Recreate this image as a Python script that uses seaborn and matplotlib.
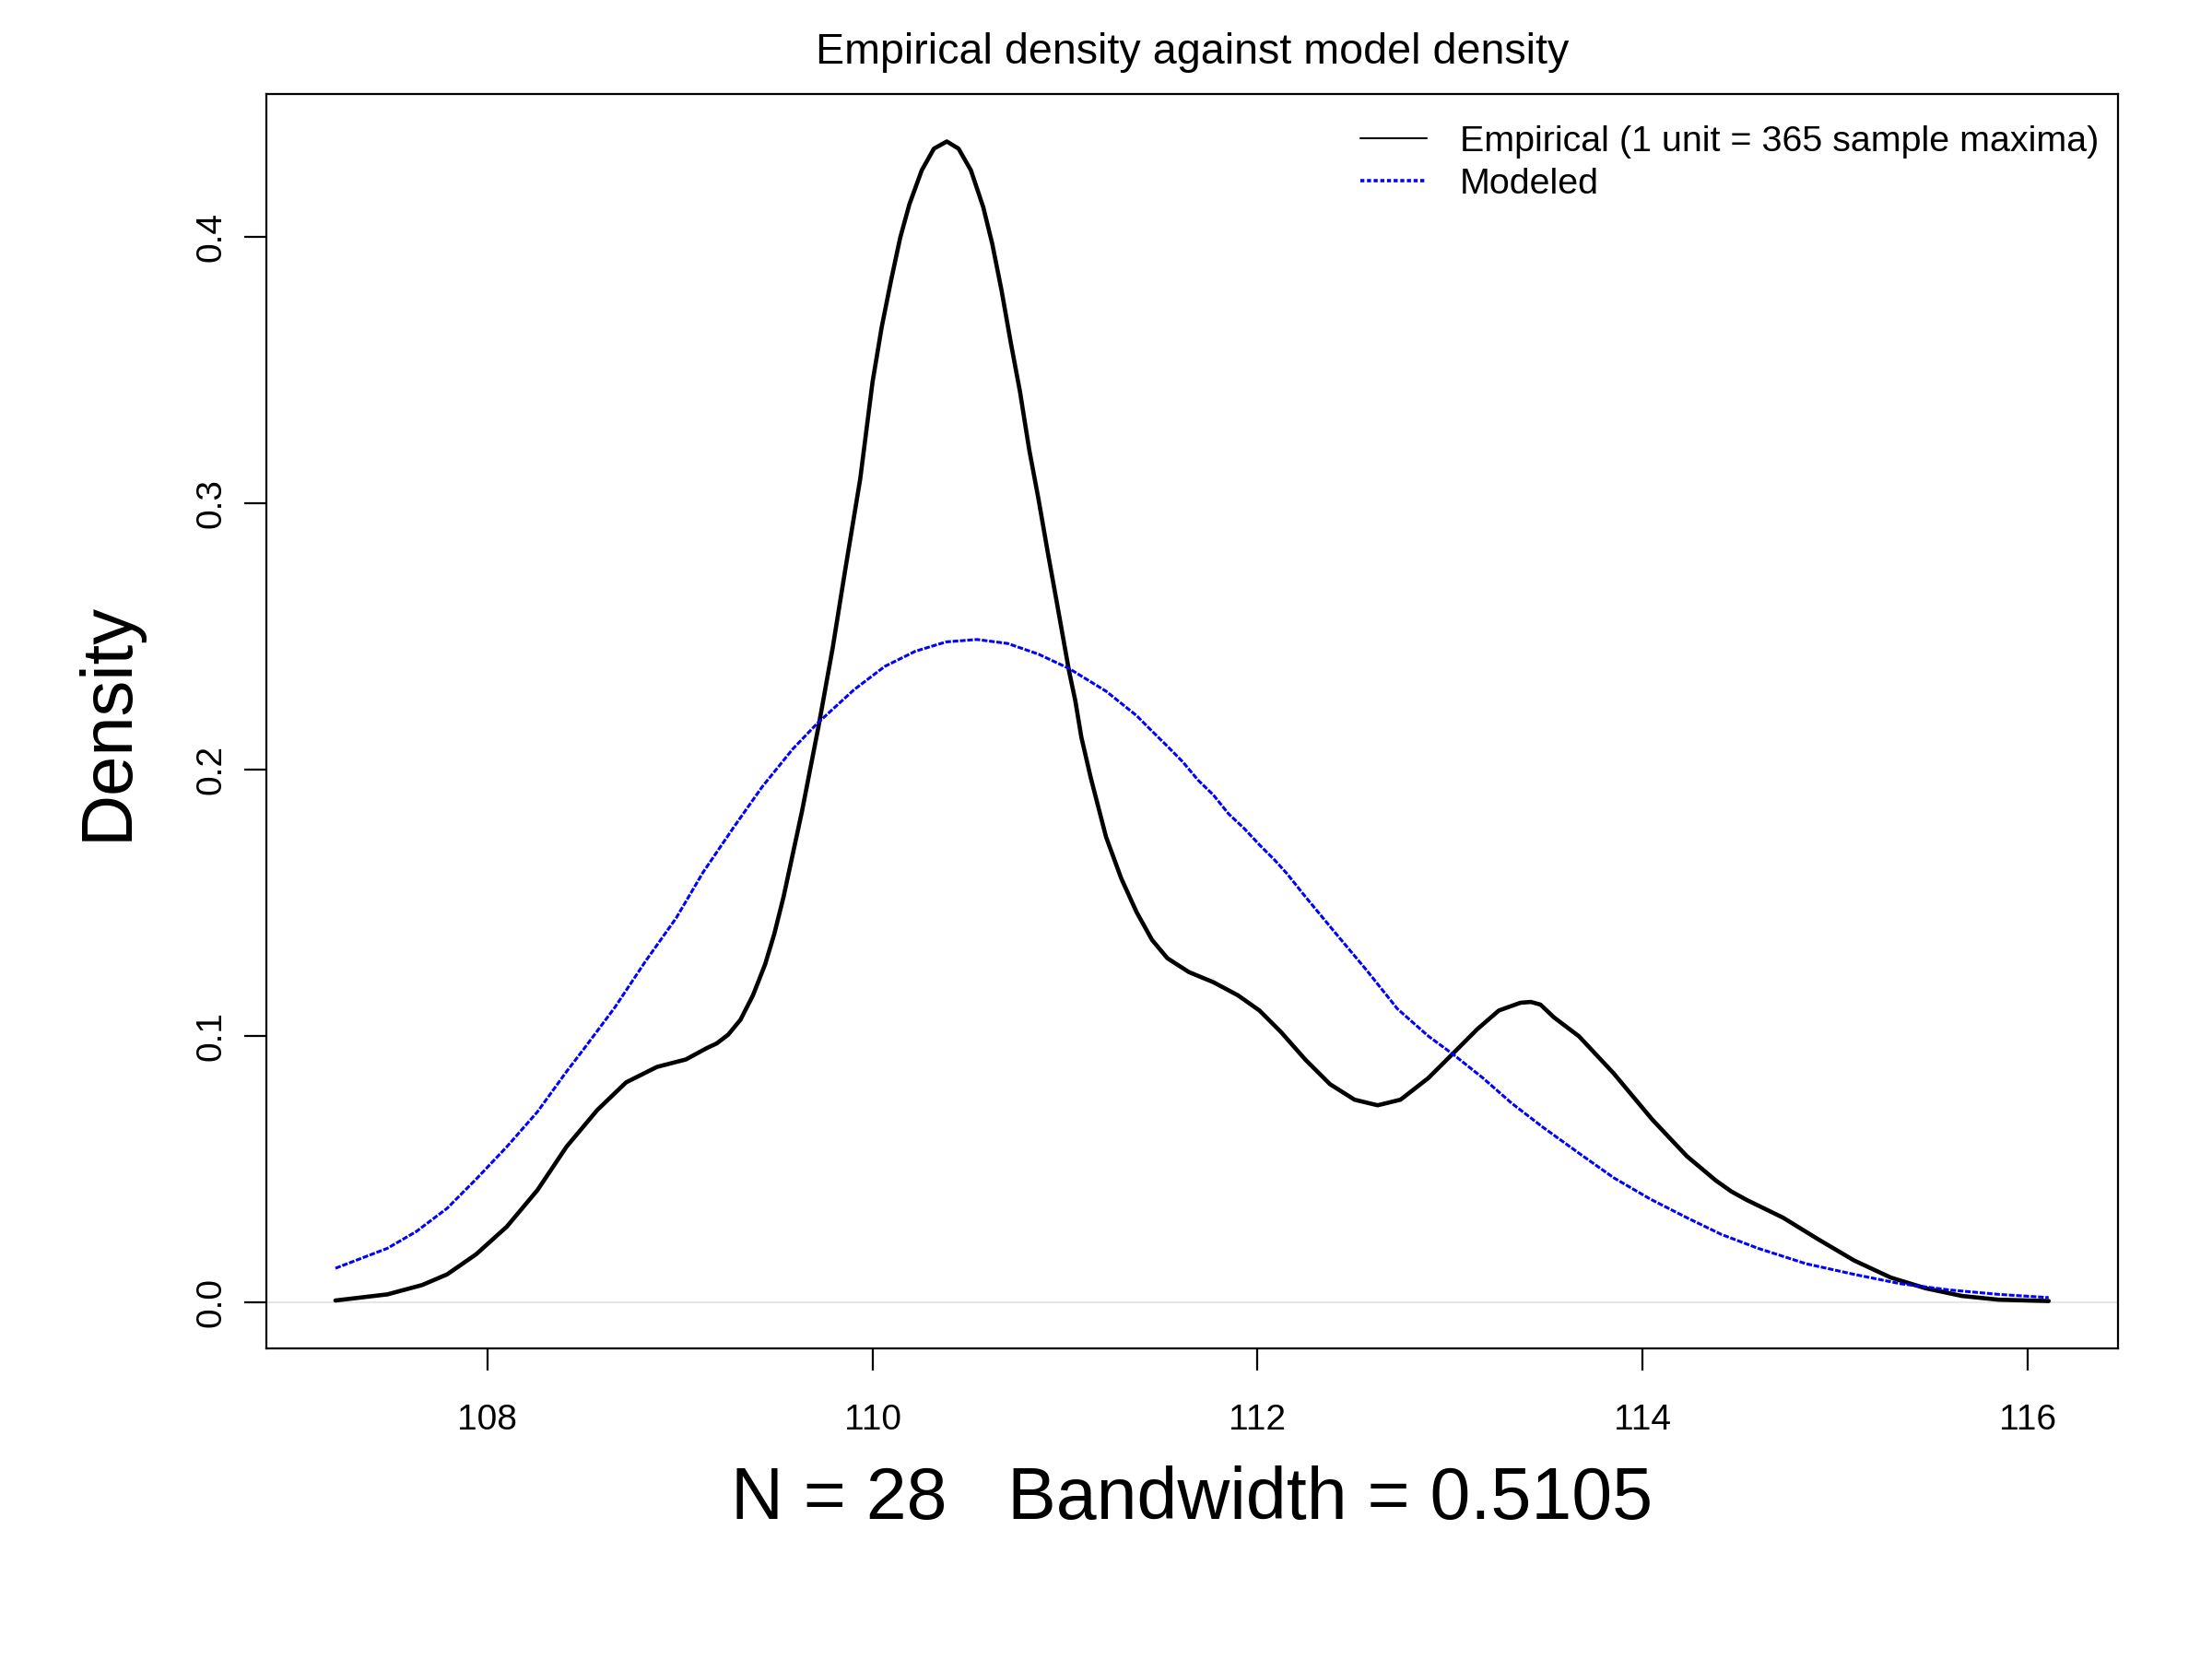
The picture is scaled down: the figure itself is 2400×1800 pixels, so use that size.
import matplotlib
matplotlib.use("Agg")
import matplotlib.pyplot as plt
from matplotlib.lines import Line2D
import seaborn as sns
import pandas as pd

# ---- data ----
emp_x = [107.21, 107.48, 107.66, 107.79, 107.94, 108.10, 108.26, 108.41, 108.57, 108.72,
         108.88, 109.03, 109.14, 109.19, 109.25, 109.314, 109.379, 109.442, 109.49, 109.538,
         109.586, 109.634, 109.721, 109.793, 109.857, 109.936, 110.00, 110.048, 110.096, 110.144,
         110.192, 110.256, 110.319, 110.386, 110.447, 110.511, 110.575, 110.622, 110.670, 110.718,
         110.766, 110.814, 110.862, 110.910, 110.957, 111.021, 111.053, 111.085, 111.133, 111.213,
         111.292, 111.372, 111.452, 111.532, 111.644, 111.771, 111.898, 112.010, 112.122, 112.249,
         112.377, 112.504, 112.624, 112.743, 112.887, 113.015, 113.142, 113.254, 113.366, 113.42,
         113.47, 113.54, 113.67, 113.85, 114.05, 114.23, 114.38, 114.46, 114.54, 114.73,
         114.91, 115.10, 115.29, 115.47, 115.66, 115.85, 116.11]
emp_y = [0.0007, 0.0030, 0.0065, 0.0105, 0.0180, 0.0284, 0.0422, 0.0584, 0.0722, 0.0826,
         0.0884, 0.0912, 0.0955, 0.0972, 0.1005, 0.1061, 0.1153, 0.1269, 0.1384, 0.1523,
         0.1684, 0.1845, 0.2168, 0.2457, 0.2745, 0.3091, 0.3455, 0.3663, 0.3836, 0.3998,
         0.4124, 0.4251, 0.4332, 0.4359, 0.4332, 0.4251, 0.4113, 0.3975, 0.3801, 0.3605,
         0.3420, 0.3202, 0.3017, 0.2818, 0.2630, 0.2370, 0.2261, 0.2122, 0.1972, 0.1748,
         0.1592, 0.1465, 0.1361, 0.1292, 0.1240, 0.1202, 0.1153, 0.1096, 0.1015, 0.0911,
         0.0819, 0.0761, 0.0740, 0.0761, 0.0842, 0.0934, 0.1026, 0.1096, 0.1125, 0.1128,
         0.1118, 0.1070, 0.0999, 0.0860, 0.0687, 0.0549, 0.0458, 0.0417, 0.0385, 0.0318,
         0.0238, 0.0157, 0.0093, 0.0053, 0.0024, 0.0010, 0.0005]

mod_x = [107.21, 107.48, 107.63, 107.79, 107.94, 108.10, 108.26, 108.41, 108.501, 108.661,
         108.820, 108.979, 109.12, 109.28, 109.426, 109.586, 109.713, 109.905, 110.064, 110.223,
         110.383, 110.543, 110.702, 110.862, 111.021, 111.213, 111.372, 111.452, 111.532, 111.611,
         111.691, 111.771, 111.850, 111.930, 112.010, 112.089, 112.154, 112.249, 112.408, 112.568,
         112.727, 112.887, 113.015, 113.17, 113.32, 113.48, 113.67, 113.85, 114.04, 114.23,
         114.41, 114.60, 114.85, 115.10, 115.34, 115.59, 115.85, 116.11]
mod_y = [0.0128, 0.0203, 0.0266, 0.0353, 0.0462, 0.0584, 0.0716, 0.0866, 0.0952, 0.1107,
         0.1280, 0.1442, 0.1615, 0.1785, 0.1935, 0.2078, 0.2174, 0.2301, 0.2388, 0.2445,
         0.2480, 0.2489, 0.2474, 0.2434, 0.2380, 0.2295, 0.2203, 0.2145, 0.2088, 0.2030,
         0.1961, 0.1905, 0.1834, 0.1780, 0.1718, 0.1661, 0.1609, 0.1523, 0.1384, 0.1246,
         0.1102, 0.1000, 0.0932, 0.0843, 0.0748, 0.0659, 0.0560, 0.0468, 0.0388, 0.0318,
         0.0255, 0.0203, 0.0145, 0.0105, 0.0070, 0.0047, 0.0030, 0.0018]

x_ticks = [108, 110, 112, 114, 116]
y_ticks = [0.0, 0.1, 0.2, 0.3, 0.4]
y_tick_labels = ["0.0", "0.1", "0.2", "0.3", "0.4"]

title_text = "Empirical density against model density"
x_label = "N = 28   Bandwidth = 0.5105"
y_label = "Density"
legend_labels = ["Empirical (1 unit = 365 sample maxima)", "Modeled"]

# ---- style ----
sns.set_theme(style="white")
plt.rcParams["font.family"] = ["Liberation Sans", "DejaVu Sans"]
plt.rcParams["axes.edgecolor"] = "black"
plt.rcParams["axes.linewidth"] = 0.8

emp_df = pd.DataFrame({"x": emp_x, "y": emp_y})
mod_df = pd.DataFrame({"x": mod_x, "y": mod_y})

fig = plt.figure(figsize=(12, 9), dpi=200)
ax = fig.add_axes([0.1204, 0.1872, 0.8371, 0.7561])

ax.axhline(0, color="#e2e2e2", lw=0.6, zorder=1)

sns.lineplot(data=emp_df, x="x", y="y", ax=ax, color="black", lw=1.65,
             estimator=None, sort=False, zorder=3)
sns.lineplot(data=mod_df, x="x", y="y", ax=ax, color="blue", lw=1.1,
             estimator=None, sort=False, zorder=4,
             linestyle=(0, (2.0, 0.6)))

ax.set_xlim(106.851, 116.470)
ax.set_ylim(-0.0173, 0.4537)

ax.set_xticks(x_ticks)
ax.set_xticklabels([str(t) for t in x_ticks], fontsize=14)
ax.set_yticks(y_ticks)
ax.set_yticklabels(y_tick_labels, fontsize=14, rotation=90, va="center")

ax.tick_params(axis="both", which="major", direction="out", length=8.5, width=0.8,
               color="black", labelcolor="black", bottom=True, left=True)
ax.tick_params(axis="x", pad=13)
ax.tick_params(axis="y", pad=6.5)

for s in ax.spines.values():
    s.set_visible(True)
    s.set_color("black")
    s.set_linewidth(0.8)

ax.set_title(title_text, fontsize=16.8, pad=12, color="black")

ax.set_xlabel(x_label, fontsize=28.4, color="black")
ax.xaxis.label.set_va("baseline")
ax.xaxis.set_label_coords(0.5, -0.136)

ax.set_ylabel(y_label, fontsize=28, color="black")
ax.yaxis.label.set_va("baseline")
ax.yaxis.set_label_coords(-0.0752, 0.5)

handles = [
    Line2D([], [], color="black", lw=0.75),
    Line2D([], [], color="blue", lw=1.3, linestyle=(0, (1.2, 0.8))),
]
leg = ax.legend(handles, legend_labels, loc="upper left",
                bbox_to_anchor=(0.6148, 0.9245), bbox_transform=fig.transFigure,
                frameon=False, fontsize=14.2, handlelength=1.85, handletextpad=0.9,
                labelspacing=0.25, borderpad=0, borderaxespad=0)
for t in leg.get_texts():
    t.set_color("black")

fig.savefig("out.png", dpi=200, facecolor="white")
